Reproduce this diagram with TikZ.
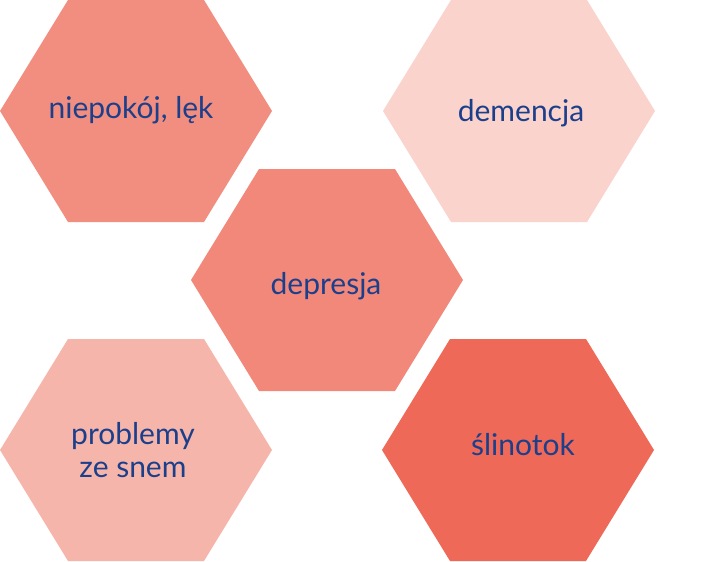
\documentclass[tikz,border=0pt]{standalone}
\usepackage{fontspec}
\setmainfont{Lato}
\usetikzlibrary{positioning}
\definecolor{anxFill}{HTML}{F28E7F}
\definecolor{demFill}{HTML}{F9D3CC}
\definecolor{depFill}{HTML}{F2887A}
\definecolor{sleepFill}{HTML}{F6B5AA}
\definecolor{salFill}{HTML}{EE6957}
\definecolor{hexText}{HTML}{1B3F8B}

% hexagon around a centre: width 272, height 222
\newcommand{\hexcell}[3]{%
  \fill[#3] (#1-136,#2) -- (#1-68,#2-111) -- (#1+68,#2-111)
    -- (#1+136,#2) -- (#1+68,#2+111) -- (#1-68,#2+111) -- cycle;}

\begin{document}
\begin{tikzpicture}[
  x=1pt, y=-1pt,
  hexlbl/.style={text=hexText, align=center, inner sep=0pt,
                 font=\fontsize{30}{33}\selectfont},
]
\useasboundingbox (0,0) rectangle (705,562);

% ----- Hexagon cells -----
\hexcell{136}{111}{anxFill}
\hexcell{519}{111}{demFill}
\hexcell{327}{280}{depFill}
\hexcell{136}{450}{sleepFill}
\hexcell{518}{450}{salFill}

% ----- Labels -----
\node[hexlbl] (ANX)   at (131,110) {niepokój, lęk};
\node[hexlbl] (DEM)   at (521,113) {demencja};
\node[hexlbl] (DEP)   at (326,286) {depresja};
\node[hexlbl] (SLEEP) at (133,450) {problemy\\ze snem};
\node[hexlbl] (SAL)   at (523,445) {ślinotok};

\end{tikzpicture}
\end{document}
